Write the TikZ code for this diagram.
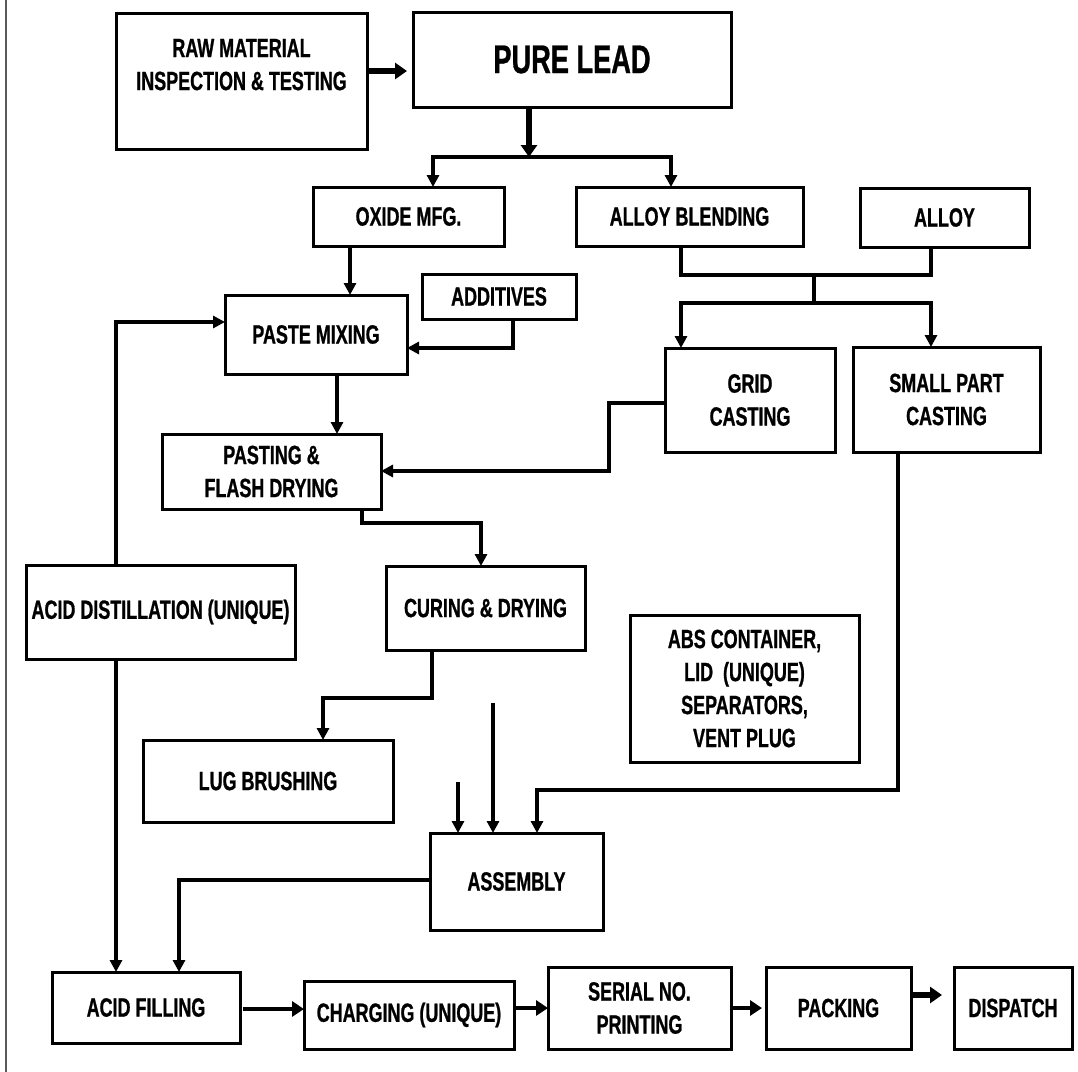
\documentclass[tikz,border=0pt]{standalone}
\usepackage{fontspec}
\setmainfont{Liberation Sans}[FakeStretch=0.68,FakeBold=0.8]
\usetikzlibrary{arrows.meta}
\tikzset{
  bx/.style={draw=black, line width=1.5pt, inner sep=0pt, outer sep=0pt, align=center,
    font=\fontsize{13.2}{16.5}\selectfont\bfseries},
  ln/.style={draw=black, line width=1.6pt},
  arr/.style={ln, -{Triangle[length=6pt,width=6pt]}},
  arrb/.style={draw=black, line width=2.2pt, -{Triangle[length=6pt,width=7.5pt]}},
  thk/.style={draw=black, line width=2.9pt, -{Triangle[length=6pt,width=8pt]}}
}
\newcommand\mybox[6]{\node[bx, minimum width={(#4-#2)*0.5pt}, minimum height={(#5-#3)*0.5pt}] (#1) at ({(#2+#4)/2},{(#3+#5)/2}) {#6};}
\begin{document}
\begin{tikzpicture}[x=0.5pt, y=-0.5pt]
\useasboundingbox (0,0) rectangle (1078,1072);
\fill[white] (0,0) rectangle (1078,1072);
\draw[black!65, line width=1.1pt] (6,0) -- (6,1072);

% boxes
\mybox{raw}{116}{13}{367}{149}{RAW MATERIAL\\INSPECTION \& TESTING\\\mbox{}}
\node[bx, font=\fontsize{20}{22}\selectfont\bfseries, minimum width={(731-413)*0.5pt}, minimum height={(107-12)*0.5pt}] (pure) at ({(413+731)/2},{(12+107)/2}) {PURE LEAD};
\mybox{oxide}{313}{187}{504}{246}{OXIDE MFG.}
\mybox{alloyb}{576}{187}{803}{246}{ALLOY BLENDING}
\mybox{alloy}{860}{188}{1029}{247}{ALLOY}
\mybox{paste}{225}{295}{407}{374}{PASTE MIXING}
\mybox{addit}{422}{274}{576}{319}{ADDITIVES}
\mybox{grid}{665}{348}{835}{452}{GRID\\CASTING}
\mybox{small}{853}{347}{1040}{452}{SMALL PART\\CASTING}
\mybox{pasting}{162}{434}{381}{509}{PASTING \&\\FLASH DRYING}
\mybox{acidd}{26}{565}{295}{659}{ACID DISTILLATION (UNIQUE)}
\mybox{curing}{386}{566}{585}{650}{CURING \& DRYING}
\mybox{abs}{630}{615}{859}{762}{ABS CONTAINER,\\LID\ \ (UNIQUE)\\SEPARATORS,\\VENT PLUG}
\mybox{lug}{143}{740}{393}{822}{LUG BRUSHING}
\mybox{assembly}{430}{833}{603}{930}{ASSEMBLY}
\mybox{acidf}{52}{972}{240}{1043}{ACID FILLING}
\mybox{charging}{304}{981}{514}{1049}{CHARGING (UNIQUE)}
\mybox{serial}{548}{967}{731}{1049}{SERIAL NO.\\PRINTING}
\mybox{packing}{766}{967}{911}{1049}{PACKING}
\mybox{dispatch}{954}{967}{1072}{1049}{DISPATCH}

% raw -> pure lead
\coordinate (r1) at (0,71);
\draw[thk, shorten >=3pt] (r1 -| raw.east) -- (r1 -| pure.west);

% pure lead -> oxide / alloy blending
\coordinate (pj) at (529,157);
\coordinate (bl) at (433,157);
\coordinate (br) at (671,157);
\draw[thk] (pj |- pure.south) -- (pj);
\draw[arr] (pj) -- (bl) -- (bl |- oxide.north);
\draw[arr] (pj) -- (br) -- (br |- alloyb.north);

% alloy blending + alloy -> grid / small part
\coordinate (a1) at (681,275);
\coordinate (a2) at (931,275);
\coordinate (a3) at (814,275);
\coordinate (a4) at (814,303);
\coordinate (g1) at (681,303);
\coordinate (s1) at (931,303);
\draw[ln] (a1 |- alloyb.south) -- (a1) -- (a2) -- (a2 |- alloy.south);
\draw[ln] (a3) -- (a4);
\draw[arr] (a4) -- (g1) -- (g1 |- grid.north);
\draw[arr] (a4) -- (s1) -- (s1 |- small.north);

% oxide -> paste mixing
\coordinate (o1) at (350,0);
\draw[arr] (o1 |- oxide.south) -- (o1 |- paste.north);

% additives -> paste mixing
\coordinate (ad) at (513,348);
\draw[arr] (ad |- addit.south) -- (ad) -- (ad -| paste.east);

% acid distillation -> paste mixing
\coordinate (ac) at (116,322);
\draw[arr] (ac |- acidd.north) -- (ac) -- (ac -| paste.west);

% paste mixing -> pasting
\coordinate (p1) at (337,0);
\draw[arr] (p1 |- paste.south) -- (p1 |- pasting.north);

% grid casting -> pasting
\coordinate (gr1) at (609,403);
\coordinate (gr2) at (609,471);
\draw[arr] (gr1 -| grid.west) -- (gr1) -- (gr2) -- (gr2 -| pasting.east);

% pasting -> curing
\coordinate (pc1) at (362,523);
\coordinate (pc2) at (481,523);
\draw[arr] (pc1 |- pasting.south) -- (pc1) -- (pc2) -- (pc2 |- curing.north);

% curing -> lug brushing
\coordinate (cl1) at (432,698);
\coordinate (cl2) at (323,698);
\draw[arr] (cl1 |- curing.south) -- (cl1) -- (cl2) -- (cl2 |- lug.north);

% acid distillation -> acid filling
\draw[arr] (ac |- acidd.south) -- (ac |- acidf.north);

% inputs to assembly
\coordinate (in1) at (458,782);
\coordinate (in2) at (493,703);
\draw[arr] (in1) -- (in1 |- assembly.north);
\draw[arr] (in2) -- (in2 |- assembly.north);

% small part casting -> assembly
\coordinate (sp1) at (898,790);
\coordinate (sp2) at (537,790);
\draw[arr] (sp1 |- small.south) -- (sp1) -- (sp2) -- (sp2 |- assembly.north);

% assembly -> acid filling
\coordinate (af1) at (179,880);
\draw[arr] (af1 -| assembly.west) -- (af1) -- (af1 |- acidf.north);

% bottom chain
\coordinate (b1) at (0,1009);
\coordinate (b2) at (0,1008);
\coordinate (b3) at (0,995);
\draw[arrb] ([xshift=1.5pt]b1 -| acidf.east) -- (b1 -| charging.west);
\draw[arrb] (b2 -| charging.east) -- (b2 -| serial.west);
\draw[arrb] (b2 -| serial.east) -- ([xshift=-2pt]b2 -| packing.west);
\draw[thk, shorten >=6pt] (b3 -| packing.east) -- (b3 -| dispatch.west);
\end{tikzpicture}
\end{document}
